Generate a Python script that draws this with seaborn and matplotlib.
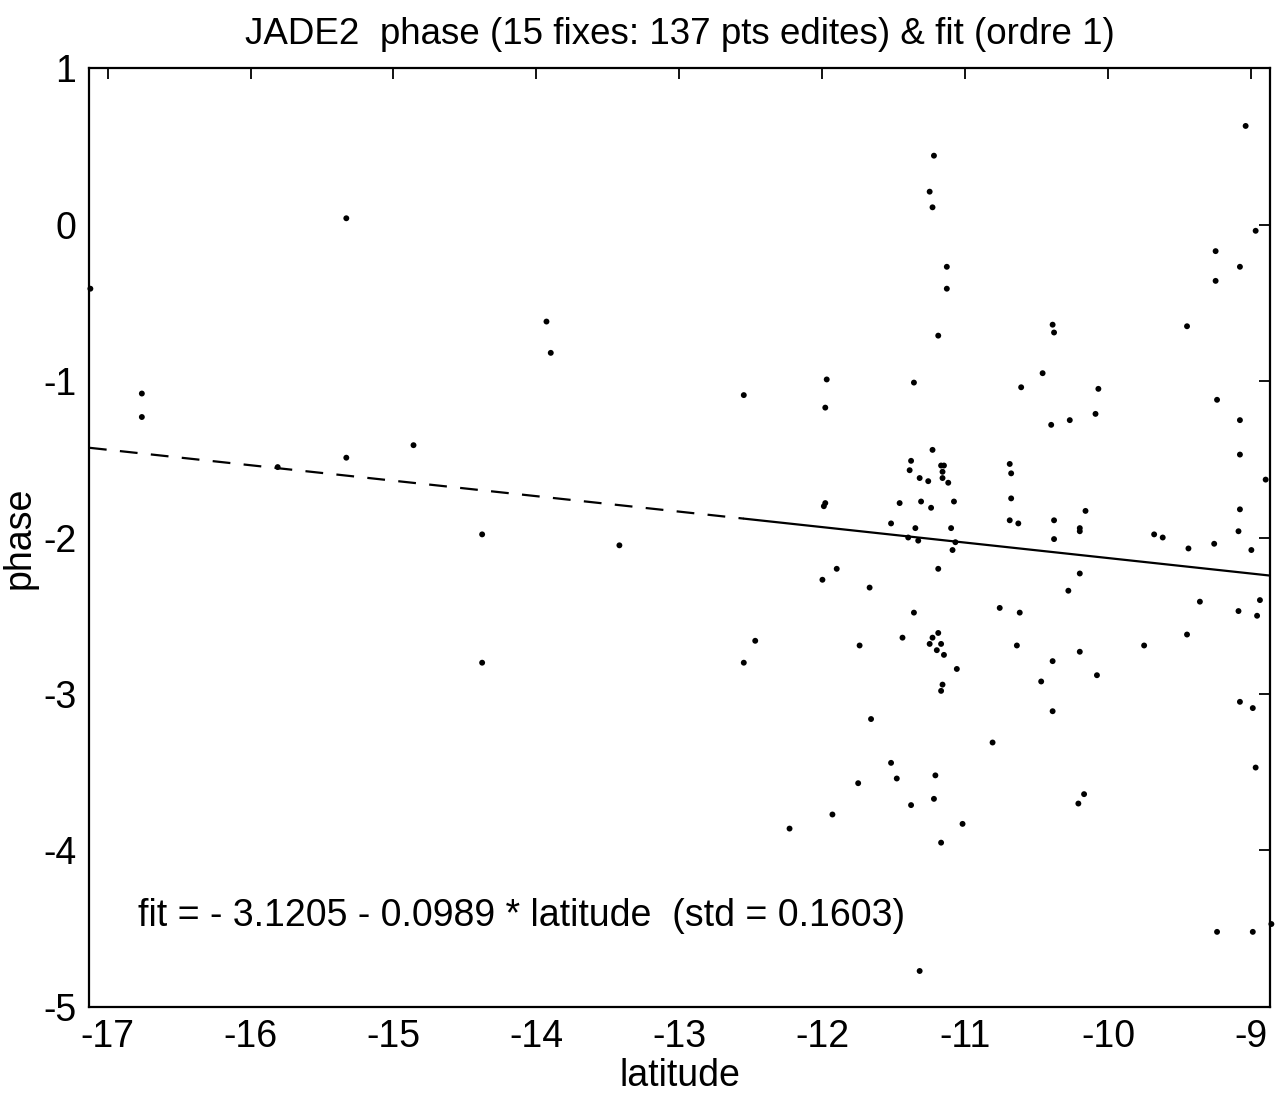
import numpy as np
import pandas as pd
import matplotlib
matplotlib.use("Agg")
import matplotlib.pyplot as plt
import seaborn as sns

# --- valeurs ---
latitude = [
    -11.22, -11.25, -11.23, -11.13, -11.13,
    -9.04, -8.97, -9.25, -9.08, -9.25,
    -11.19, -11.97, -11.36, -12.55, -11.98, -11.23, -11.38, -11.17, -11.15, -11.39,
    -11.16, -11.32, -11.26, -11.16, -11.12, -11.98, -11.99, -11.46, -11.31, -11.24,
    -11.08, -11.52, -11.35, -11.10, -11.40, -11.33, -11.09, -11.07,
    -10.39, -10.38, -9.45, -10.46, -10.61, -10.07, -9.24, -10.27, -10.09, -10.40,
    -9.08, -9.08, -10.69, -10.68, -8.90, -10.68, -10.16, -9.08, -10.69, -10.63,
    -10.38, -10.20, -10.20, -9.09, -9.68, -9.62, -10.38,
    -9.44, -9.26, -9.00, -10.20, -10.28, -10.76, -10.62, -9.36, -9.09, -8.94,
    -8.96, -9.45, -10.64, -9.75, -10.20, -10.39, -10.08, -10.47, -9.08, -8.99,
    -10.39, -8.97,
    -11.90, -12.00, -11.19, -11.67, -11.36, -12.47, -12.55, -11.74, -11.44, -11.19,
    -11.23, -11.25, -11.17, -11.20, -11.15, -11.06, -11.16, -11.17, -11.66, -10.81,
    -11.52, -11.48, -11.21,
    -11.75, -11.38, -11.22, -11.93, -12.23, -11.02, -11.17, -11.32,
    -10.17, -10.21, -9.24, -8.99, -8.86,
    -15.33, -17.12, -16.76, -16.76, -15.33, -15.81,
    -13.93, -13.90, -14.86, -14.38, -13.42, -14.38,
]
phase = [
    0.44, 0.21, 0.11, -0.27, -0.41,
    0.63, -0.04, -0.17, -0.27, -0.36,
    -0.71, -0.99, -1.01, -1.09, -1.17, -1.44, -1.51, -1.54, -1.54, -1.57,
    -1.58, -1.62, -1.64, -1.62, -1.65, -1.78, -1.80, -1.78, -1.77, -1.81,
    -1.77, -1.91, -1.94, -1.94, -2.00, -2.02, -2.08, -2.03,
    -0.64, -0.69, -0.65, -0.95, -1.04, -1.05, -1.12, -1.25, -1.21, -1.28,
    -1.25, -1.47, -1.53, -1.59, -1.63, -1.75, -1.83, -1.82, -1.89, -1.91,
    -1.89, -1.94, -1.96, -1.96, -1.98, -2.00, -2.01,
    -2.07, -2.04, -2.08, -2.23, -2.34, -2.45, -2.48, -2.41, -2.47, -2.40,
    -2.50, -2.62, -2.69, -2.69, -2.73, -2.79, -2.88, -2.92, -3.05, -3.09,
    -3.11, -3.47,
    -2.20, -2.27, -2.20, -2.32, -2.48, -2.66, -2.80, -2.69, -2.64, -2.61,
    -2.64, -2.68, -2.68, -2.72, -2.75, -2.84, -2.94, -2.98, -3.16, -3.31,
    -3.44, -3.54, -3.52,
    -3.57, -3.71, -3.67, -3.77, -3.86, -3.83, -3.95, -4.77,
    -3.64, -3.70, -4.52, -4.52, -4.47,
    0.04, -0.41, -1.08, -1.23, -1.49, -1.55,
    -0.62, -0.82, -1.41, -1.98, -2.05, -2.80,
]

# coefficients du fit (ordre 1)
fit_a = -3.1205
fit_b = -0.0989
fit_std = 0.1603
lat_dash = [-17.13, -12.55]   # extrapolation (tirets)
lat_solid = [-12.55, -8.87]   # zone des fixes (trait plein)

x_ticks = [-17, -16, -15, -14, -13, -12, -11, -10, -9]
y_ticks = [-5, -4, -3, -2, -1, 0, 1]

titre = "JADE2  phase (15 fixes: 137 pts edites) & fit (ordre 1)"

df = pd.DataFrame({"latitude": latitude, "phase": phase})

# ==============================
# FIGURE
# ==============================
sns.set_style("white")
plt.rcParams["font.family"] = ["Liberation Sans", "DejaVu Sans"]
plt.rcParams["text.color"] = "black"
plt.rcParams["axes.labelcolor"] = "black"
plt.rcParams["xtick.color"] = "black"
plt.rcParams["ytick.color"] = "black"

fig = plt.figure(figsize=(12.78, 11.01), dpi=100)
ax = fig.add_axes([0.0696, 0.0854, 0.9241, 0.8528])

sns.scatterplot(data=df, x="latitude", y="phase", ax=ax, color="black",
                s=18, edgecolor="none", linewidth=0, clip_on=False, zorder=3)

ld = np.array(lat_dash)
ls = np.array(lat_solid)
ax.plot(ld, fit_a + fit_b * ld, color="black", lw=1.6, dashes=(8, 6))
ax.plot(ls, fit_a + fit_b * ls, color="black", lw=1.6)

ax.set_xlim(-17.13, -8.87)
ax.set_ylim(-5, 1)
ax.set_xticks(x_ticks)
ax.set_yticks(y_ticks)
ax.set_xticklabels([str(v) for v in x_ticks])
ax.set_yticklabels([str(v) for v in y_ticks])

ax.tick_params(direction="in", length=8, width=1.3, labelsize=27,
               top=True, right=True, pad=9)
for sp in ax.spines.values():
    sp.set_visible(True)
    sp.set_color("black")
    sp.set_linewidth(1.6)

ax.set_xlabel("latitude", fontsize=27, labelpad=2)
ax.set_ylabel("phase", fontsize=27, labelpad=4)
ax.set_title(titre, fontsize=26.5, pad=17)

ax.text(-16.79, -4.42,
        f"fit = - {abs(fit_a):.4f} - {abs(fit_b):.4f} * latitude  (std = {fit_std:.4f})",
        fontsize=27, ha="left", va="center")

fig.savefig("out.png", dpi=100)
